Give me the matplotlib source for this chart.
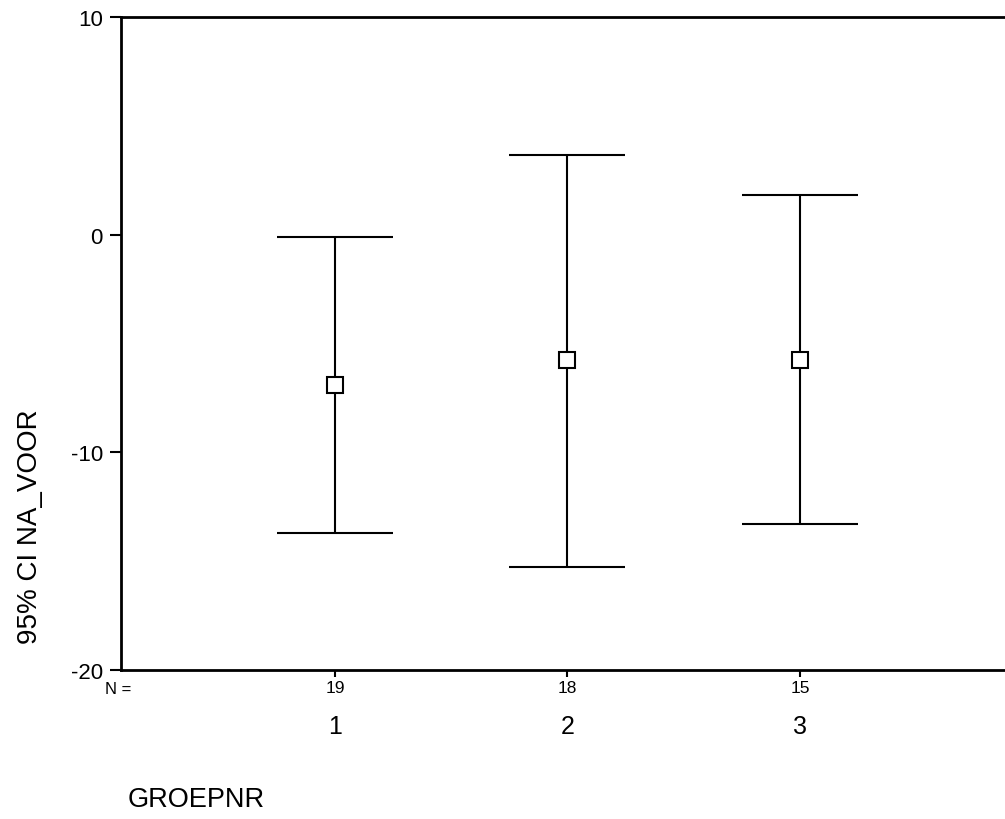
import matplotlib
matplotlib.use("Agg")
import matplotlib.pyplot as plt
import matplotlib.transforms as mtransforms

plt.rcParams['font.family'] = ['Liberation Sans', 'DejaVu Sans']

# data
groups = [1, 2, 3]
group_labels = ['1', '2', '3']
n_counts = [19, 18, 15]
means = [-6.9, -5.75, -5.78]
ci_low = [-13.7, -15.25, -13.3]
ci_high = [-0.12, 3.67, 1.84]

fig = plt.figure(figsize=(10.05, 8.2), dpi=100)
ax = fig.add_axes([121 / 1005, 1 - 671 / 820, 1 - 121 / 1005, (671 - 18) / 820])

yerr = [[m - lo for m, lo in zip(means, ci_low)],
        [hi - m for m, hi in zip(means, ci_high)]]
ax.errorbar(groups, means, yerr=yerr, fmt='s', color='black', ecolor='black',
            elinewidth=1.5, capsize=42, capthick=1.5,
            markersize=11, markerfacecolor='white', markeredgecolor='black',
            markeredgewidth=1.5, zorder=3)

ax.set_xlim(0.0796, 3.882)
ax.set_ylim(-20, 10)
ax.set_yticks([-20, -10, 0, 10])
ax.set_yticklabels(['-20', '-10', '0', '10'], fontsize=16)
ax.tick_params(axis='y', direction='out', length=8, width=1.5, pad=5)
ax.set_xticks(groups)
ax.set_xticklabels([''] * len(groups))
ax.tick_params(axis='x', direction='out', length=5, width=1.5)

for side in ['left', 'bottom', 'top']:
    ax.spines[side].set_linewidth(2)
ax.spines['right'].set_visible(False)

# N counts and group labels under the axis
trans = mtransforms.blended_transform_factory(ax.transData, fig.transFigure)
ax.text(0.067, 1 - 690 / 820, 'N =', transform=trans,
        ha='center', va='center', fontsize=12, clip_on=False)
for g, n, lab in zip(groups, n_counts, group_labels):
    ax.text(g, 1 - 689 / 820, str(n), transform=trans,
            ha='center', va='center', fontsize=12.5, clip_on=False)
    ax.text(g, 1 - 727 / 820, lab, transform=trans,
            ha='center', va='center', fontsize=18, clip_on=False)

fig.text(30 / 1005, 1 - 527 / 820, '95% CI NA_VOOR', rotation=90,
         ha='center', va='center', fontsize=20)
fig.text(128 / 1005, 1 - 800 / 820, 'GROEPNR', ha='left', va='center',
         fontsize=19.5)

fig.savefig('out.png', dpi=100)
